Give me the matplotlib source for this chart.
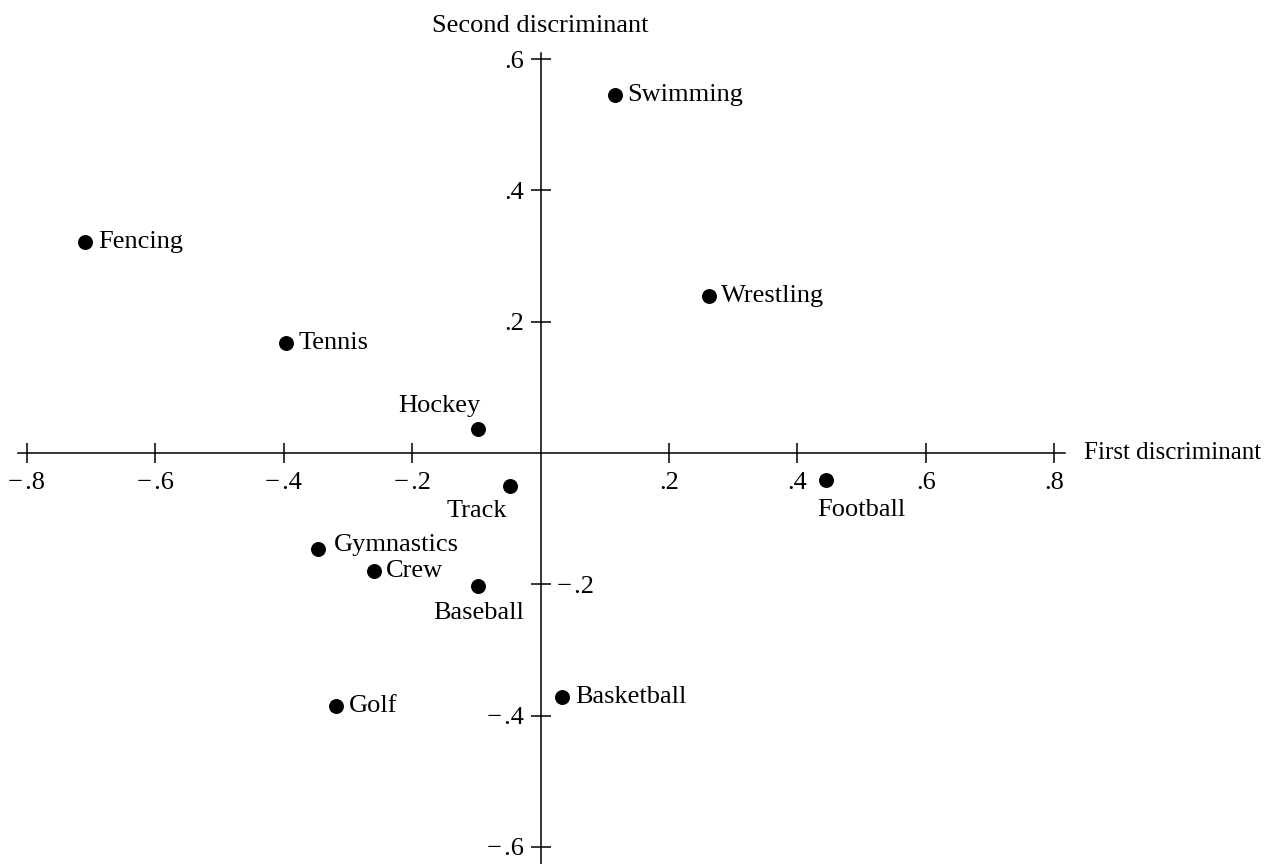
import matplotlib
matplotlib.use("Agg")
import matplotlib.pyplot as plt

plt.rcParams['font.family'] = ['Liberation Serif', 'DejaVu Serif']

# Discriminant scores
sports = ["Swimming", "Fencing", "Wrestling", "Tennis", "Hockey", "Track",
          "Football", "Gymnastics", "Crew", "Baseball", "Golf", "Basketball"]
first_disc = [0.116, -0.709, 0.262, -0.397, -0.098, -0.047,
              0.444, -0.346, -0.260, -0.097, -0.318, 0.034]
second_disc = [0.546, 0.321, 0.239, 0.167, 0.036, -0.050,
               -0.041, -0.146, -0.179, -0.202, -0.385, -0.372]

x_ticks = [-0.8, -0.6, -0.4, -0.2, 0.2, 0.4, 0.6, 0.8]
y_ticks = [-0.6, -0.4, -0.2, 0.2, 0.4, 0.6]


def tick_text(v):
    s = f"{abs(v):.1f}".lstrip("0")
    return ("\u2212\u200a" + s) if v < 0 else s


# label placement: (offset x pt, offset y pt, ha, va); default is to the right
placement = {
    "Hockey": (2, 9, "right", "bottom"),
    "Track": (-2, -10, "right", "top"),
    "Football": (-6, -14, "left", "top"),
    "Baseball": (0, -12, "center", "top"),
    "Gymnastics": (11, 3, "left", "center"),
}

fig = plt.figure(figsize=(12.72, 8.64), dpi=100)
ax = fig.add_axes([18 / 1272, 0, 1047 / 1272, 1 - 53 / 864])
ax.set_xlim(-0.8139, 0.8170)
ax.set_ylim(-0.6261, 0.6094)

ax.spines["top"].set_visible(False)
ax.spines["left"].set_position(("data", 0))
ax.spines["right"].set_position(("data", 0))
ax.spines["right"].set_visible(False)
ax.spines["bottom"].set_position(("data", 0))
for side in ["left", "bottom"]:
    ax.spines[side].set_linewidth(1.1)

ax.set_xticks(x_ticks)
ax.set_xticklabels([tick_text(v) for v in x_ticks])
ax.set_yticks(y_ticks)
ax.set_yticklabels([tick_text(v) for v in y_ticks])
ax.xaxis.set_ticks_position("bottom")
ax.yaxis.set_ticks_position("left")
ax.tick_params(axis="both", direction="inout", length=14, width=1.1,
               labelsize=19, pad=5)
ax.tick_params(axis="x", pad=7)

# the -.2 label sits on the right of the vertical axis
for v, tick in zip(y_ticks, ax.yaxis.get_major_ticks()):
    if abs(v + 0.2) < 1e-9:
        tick.label1.set_visible(False)
        tick.label2.set_text(tick_text(v))
        tick.label2.set_visible(True)
        tick.label2.set_fontsize(19)

ax.scatter(first_disc, second_disc, s=95, color="black", zorder=3)

for name, x, y in zip(sports, first_disc, second_disc):
    dx, dy, ha, va = placement.get(name, (9, 0, "left", "center"))
    ax.annotate(name, (x, y), xytext=(dx, dy), textcoords="offset points",
                ha=ha, va=va, fontsize=19)

ax.annotate("First discriminant", xy=(1, 0),
            xycoords=("axes fraction", "data"), xytext=(14, 0),
            textcoords="offset points", ha="left", va="center", fontsize=18)
ax.annotate("Second discriminant", xy=(0, 1),
            xycoords=("data", "axes fraction"), xytext=(0, 15),
            textcoords="offset points", ha="center", va="baseline",
            fontsize=19, annotation_clip=False)

fig.savefig("out.png", dpi=100)
